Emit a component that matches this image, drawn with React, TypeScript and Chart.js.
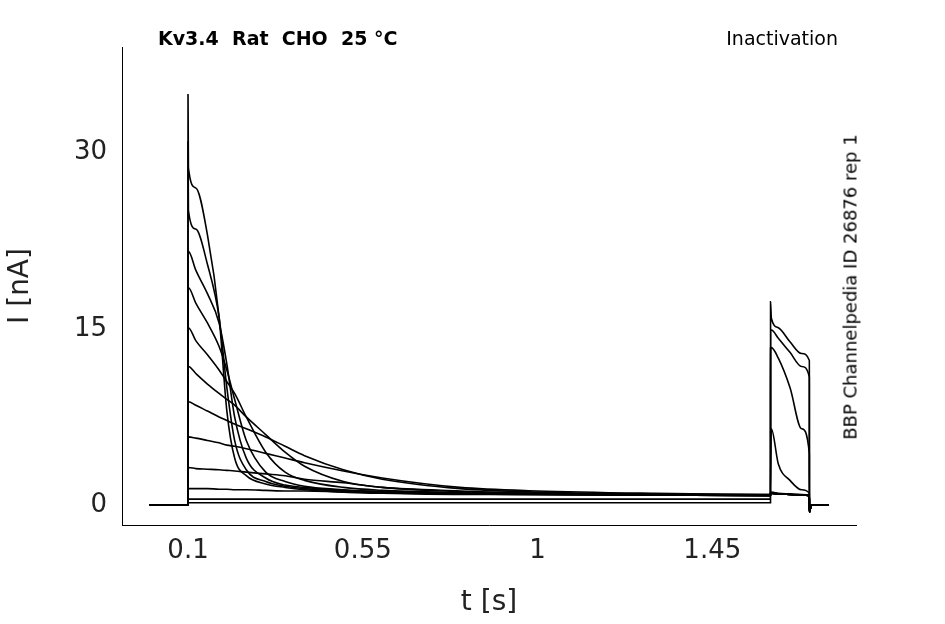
import React, { useEffect, useRef } from "react";
import { Chart, registerables } from "chart.js";
Chart.register(...registerables);

const times = [0, 0.0999, 0.1, 0.101, 0.12, 0.15, 0.18, 0.2, 0.22, 0.25, 0.3, 0.35, 0.4, 0.5, 0.6, 0.8, 1.0, 1.3, 1.5999, 1.6, 1.602, 1.62, 1.65, 1.68, 1.6999, 1.7, 1.705, 1.75];
const sweepA = [0, 0, 35, 28.7, 27, 23, 16, 8, 4, 2.5, 1.8, 1.5, 1.3, 1.1, 1.0, 0.9, 0.9, 0.85, 0.8, 1.0, 1.0, 0.95, 0.9, 0.85, 0.8, -0.6, 0, 0];
const sweepB = [0, 0, 31, 25.1, 23.5, 20.5, 16, 10, 5.5, 3, 2, 1.6, 1.4, 1.2, 1.05, 0.95, 0.9, 0.85, 0.8, 1.0, 1.0, 0.95, 0.9, 0.85, 0.8, -0.6, 0, 0];
const sweepC = [0, 0, 21.6, 21.6, 20, 18, 15.5, 12, 7.5, 4, 2.3, 1.7, 1.5, 1.25, 1.1, 0.95, 0.9, 0.85, 0.8, 1.0, 1.0, 0.95, 0.9, 0.85, 0.8, -0.6, 0, 0];
const sweepD = [0, 0, 18.5, 18.5, 17.2, 15.5, 13.5, 11.5, 9, 5.5, 2.8, 2, 1.6, 1.3, 1.15, 1.0, 0.9, 0.85, 0.8, 1.0, 1.0, 0.95, 0.9, 0.85, 0.8, -0.6, 0, 0];
const sweepE = [0, 0, 15.1, 15.1, 14, 12.8, 11.5, 10.5, 9.5, 7.5, 4.5, 2.8, 2.1, 1.5, 1.25, 1.05, 0.95, 0.9, 0.85, 1.0, 1.0, 0.95, 0.9, 0.85, 0.8, -0.6, 0, 0];
const sweepF = [0, 0, 11.8, 11.8, 11.2, 10.3, 9.5, 9, 8.5, 7.5, 6, 4.5, 3.3, 2, 1.5, 1.15, 1.0, 0.9, 0.85, 1.0, 1.0, 0.95, 0.9, 0.85, 0.8, -0.6, 0, 0];
const sweepG = [0, 0, 8.8, 8.8, 8.5, 8, 7.5, 7.2, 6.9, 6.5, 5.8, 5, 4.2, 3, 2.2, 1.4, 1.1, 0.95, 0.9, 1.0, 1.0, 0.95, 0.9, 0.85, 0.8, -0.6, 0, 0];
const sweepH = [0, 0, 5.8, 5.8, 5.7, 5.5, 5.3, 5.1, 5, 4.8, 4.4, 4, 3.6, 2.9, 2.3, 1.5, 1.2, 1.0, 0.9, 1.1, 1.1, 1.0, 0.95, 0.9, 0.85, -0.6, 0, 0];
const sweepI = [0, 0, 3.2, 3.2, 3.1, 3.05, 3.0, 2.95, 2.9, 2.8, 2.65, 2.5, 2.2, 1.9, 1.5, 1.2, 1.0, 0.9, 0.85, 1.5, 6.5, 3.5, 2.1, 1.3, 1.0, -0.6, 0, 0];
const sweepJ = [0, 0, 1.4, 1.4, 1.4, 1.4, 1.35, 1.35, 1.3, 1.3, 1.25, 1.2, 1.2, 1.1, 1.05, 1.0, 0.95, 0.9, 0.85, 13.4, 13.4, 12.5, 10, 6.5, 4.4, -0.6, 0, 0];
const sweepK = [0, 0, 0.5, 0.5, 0.5, 0.5, 0.5, 0.5, 0.5, 0.5, 0.5, 0.5, 0.5, 0.5, 0.5, 0.5, 0.5, 0.5, 0.5, 14.9, 14.9, 14.2, 13, 11.8, 10.9, -0.6, 0, 0];
const sweepL = [0, 0, 0.2, 0.2, 0.2, 0.2, 0.2, 0.2, 0.2, 0.2, 0.2, 0.2, 0.2, 0.2, 0.2, 0.2, 0.2, 0.2, 0.2, 17.3, 15.9, 15.1, 13.9, 12.9, 12.3, -0.6, 0, 0];
const sweeps = [sweepA, sweepB, sweepC, sweepD, sweepE, sweepF, sweepG, sweepH, sweepI, sweepJ, sweepK, sweepL];
const xTicks = [0.1, 0.55, 1, 1.45];
const yTicks = [0, 15, 30];

export default function App() {
  const ref = useRef<HTMLCanvasElement>(null);
  useEffect(() => {
    const font = "'DejaVu Sans', sans-serif";
    const chart = new Chart(ref.current!, {
      type: "scatter",
      data: {
        datasets: sweeps.map((s) => ({
          data: s.map((v, i) => ({ x: times[i], y: v })),
          showLine: true,
          borderColor: "#000",
          borderWidth: 1.6,
          pointRadius: 0,
          tension: 0.3,
          cubicInterpolationMode: "monotone" as const,
        })),
      },
      options: {
        animation: false,
        responsive: false,
        layout: { padding: { top: 47, right: 89, left: 0, bottom: 0 } },
        plugins: { legend: { display: false }, tooltip: { enabled: false } },
        scales: {
          x: {
            type: "linear", min: -0.07, max: 1.82,
            afterBuildTicks: (s: any) => { s.ticks = xTicks.map((v) => ({ value: v })); },
            afterFit: (s: any) => { s.height = 99; },
            grid: { display: false, drawTicks: true, tickLength: 5 },
            border: { color: "#000", width: 1 },
            ticks: { color: "#222", font: { family: font, size: 26 }, padding: 6, maxRotation: 0, callback: (v: any) => String(v) },
            title: { display: true, text: "t [s]", color: "#222", font: { family: font, size: 28 }, padding: { top: 0 } },
          },
          y: {
            type: "linear", min: -1.7, max: 39,
            afterBuildTicks: (s: any) => { s.ticks = yTicks.map((v) => ({ value: v })); },
            afterFit: (s: any) => { s.width = 122; },
            grid: { display: false, tickLength: 5 },
            border: { color: "#000", width: 1 },
            ticks: { color: "#222", font: { family: font, size: 26 }, padding: 10 },
            title: { display: true, text: "I [nA]", color: "#222", font: { family: font, size: 28 }, padding: { bottom: 6 } },
          },
        },
      },
    });
    return () => chart.destroy();
  }, []);
  const font = "'DejaVu Sans', sans-serif";
  return (
    <div style={{ position: "absolute", left: 0, top: 0, width: 945, height: 624, background: "#fff", fontFamily: font }}>
      <canvas ref={ref} width={945} height={624} style={{ width: 945, height: 624 }} />
      <div style={{ position: "absolute", left: 158, top: 27, fontSize: 19, fontWeight: "bold", color: "#000", whiteSpace: "pre" }}>Kv3.4  Rat  CHO  25 °C</div>
      <div style={{ position: "absolute", right: 107, top: 27, fontSize: 19, color: "#000" }}>Inactivation</div>
      <div style={{ position: "absolute", left: 850, top: 287, fontSize: 18, color: "#000", whiteSpace: "nowrap", transform: "translate(-50%, -50%) rotate(-90deg)" }}>BBP Channelpedia ID 26876 rep 1</div>
    </div>
  );
}
